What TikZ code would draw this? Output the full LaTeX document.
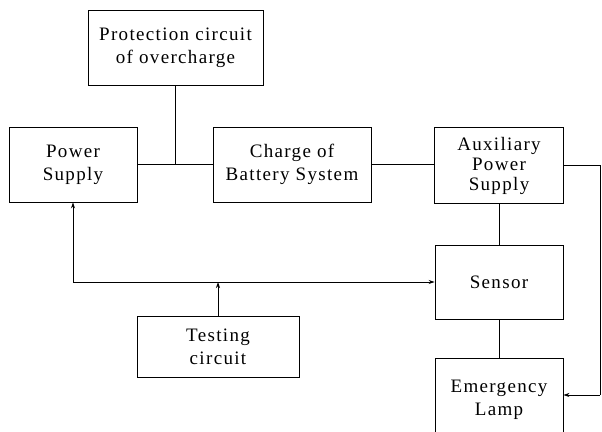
\documentclass[tikz,border=0pt]{standalone}
\usepackage{fontspec}
\setmainfont{Liberation Serif}[LetterSpace=7]
\usetikzlibrary{arrows.meta}
\begin{document}
\begin{tikzpicture}[x=1pt,y=-1pt,
  blk/.style={draw,line width=0.9pt,align=center,inner sep=0pt,font=\fontsize{19}{23}\selectfont},
  conn/.style={line width=0.8pt},
  tip/.style={-{Stealth[length=6pt,width=4pt]}}]
\useasboundingbox (0,0) rectangle (602,431);
\begin{scope}
\clip (0,0) rectangle (602,431);
\node[blk,minimum width=175pt,minimum height=75pt] (prot) at (175.5,47.5) {Protection circuit\\of overcharge};
\node[blk,minimum width=128pt,minimum height=75pt] (power) at (73,164.5) {Power\\Supply};
\node[blk,minimum width=158pt,minimum height=75pt] (charge) at (292,164.5) {Charge of\\Battery System};
\node[blk,minimum width=129pt,minimum height=76pt,font=\fontsize{19}{20}\selectfont] (aux) at (499,165.5) {Auxiliary\\Power\\Supply};
\node[blk,minimum width=128pt,minimum height=74pt] (sensor) at (499,282) {Sensor};
\node[blk,minimum width=128pt,minimum height=82pt,anchor=north] (lamp) at (499,358) {Emergency\\Lamp};
\node[blk,minimum width=162pt,minimum height=61pt] (test) at (218,346.5) {Testing\\circuit};
\coordinate (j) at (73,282);
\coordinate (r1) at (600,165);
\coordinate (r2) at (600,395);
\draw[conn] (power.east) -- (charge.west);
\draw[conn] (prot.south) -- (prot.south |- power.east);
\draw[conn] (charge.east) -- (aux.west |- charge.east);
\draw[conn] (aux.east |- r1) -- (r1) -- (r2);
\draw[conn,tip] (r2) -- (r2 -| lamp.east);
\draw[conn] (aux.south) -- (sensor.north);
\draw[conn] (sensor.south) -- (lamp.north);
\draw[conn,tip] (j) -- (power.south);
\draw[conn,tip] (j) -- (j -| sensor.west);
\draw[conn,tip] (test.north) -- (test.north |- j);
\end{scope}
\end{tikzpicture}
\end{document}
